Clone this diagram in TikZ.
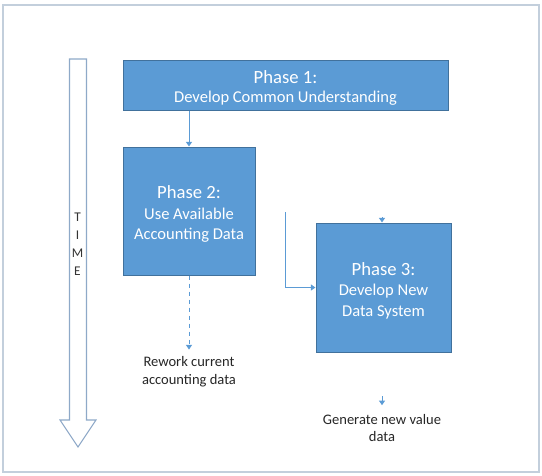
\documentclass[tikz,border=0pt]{standalone}
\usepackage{fontspec}
\setmainfont{Carlito}
\usetikzlibrary{arrows.meta}

\definecolor{phaseblue}{HTML}{5B9BD5}
\definecolor{phaseedge}{HTML}{41719C}
\definecolor{timeedge}{HTML}{8EA9C8}
\definecolor{frameedge}{HTML}{C3CFDC}

\newcommand{\phasehead}[1]{{\fontsize{14}{17}\selectfont\rule{0pt}{14.5pt}#1}}

\tikzset{
  phasebox/.style={draw=phaseedge,fill=phaseblue,text=white,line width=0.75pt,
    align=center,inner sep=0pt,font=\fontsize{12.4}{15.5}\selectfont},
  flowarrow/.style={draw=phaseblue,line width=0.75pt,-{Triangle[width=4.5pt,length=3.5pt]}},
  outcome/.style={align=center,inner sep=0pt,text=black!85,font=\fontsize{10.9}{13.1}\selectfont},
}

\begin{document}
\begin{tikzpicture}[x=0.75pt,y=-0.75pt]
  \def\px{0.75pt}
  \useasboundingbox (0,0) rectangle (542,475);
  \draw[frameedge,line width=1.2pt] (3,5) rectangle (539,472);

  % time arrow
  \draw[timeedge,line width=0.8pt,fill=white]
    (69.5,59) -- (86.5,59) -- (86.5,420) -- (96,420) -- (78,447)
    -- (60,420) -- (69.5,420) -- cycle;
  \foreach \letter [count=\i from 0] in {T,I,M,E}
    \node[font=\fontsize{10}{12}\selectfont,text=black!80] (time\i) at (77.5,{217+18*\i}) {\letter};

  % phases
  \node[phasebox,minimum width=325*\px,minimum height=50*\px] (phaseone) at (285.5,85)
    {\phasehead{Phase 1:}\\[-1pt] Develop Common Understanding};
  \node[phasebox,minimum width=132*\px,minimum height=128*\px] (phasetwo) at (189,211)
    {\phasehead{Phase 2:}\\ Use Available\\ Accounting Data};
  \node[phasebox,minimum width=135*\px,minimum height=129*\px] (phasethree) at (383.5,287.5)
    {\phasehead{Phase 3:}\\ Develop New\\ Data System};

  % outcomes
  \node[outcome] (rework) at (189,371.5) {Rework current\\ accounting data};
  \node[outcome] (generate) at (382,428) {Generate new value\\ data};

  % connectors
  \coordinate (elbowstart) at (285,212);
  \coordinate (stubthree) at (382,217);
  \coordinate (stubgen) at (382,396);
  \draw[flowarrow] (phaseone.south -| phasetwo.north) -- (phasetwo.north);
  \draw[flowarrow,dashed,shorten >=5pt] (phasetwo.south) -- (rework.north);
  \draw[flowarrow] (elbowstart) |- (phasethree.west);
  \draw[flowarrow] (stubthree) -- (stubthree |- phasethree.north);
  \draw[flowarrow,shorten >=6.5pt] (stubgen) -- (generate.north -| stubgen);
\end{tikzpicture}
\end{document}
